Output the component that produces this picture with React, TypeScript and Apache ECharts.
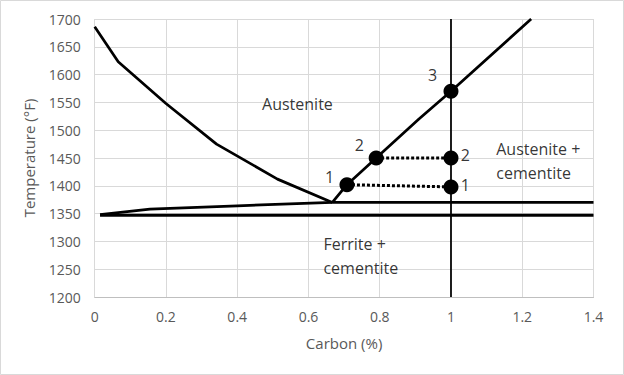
import React, { useEffect, useRef } from "react";
import * as echarts from "echarts";

// A3 line (ferrite/austenite boundary)
const a3Carbon = [0, 0.066, 0.2, 0.342, 0.513, 0.667];
const a3Temp = [1686, 1623, 1548, 1475, 1412, 1370];

// A1 upper line
const a1Carbon = [0.015, 0.155, 0.4, 0.667, 1.4];
const a1Temp = [1348, 1358, 1364, 1370, 1370];

// Lower horizontal line
const lowCarbon = [0.015, 1.4];
const lowTemp = [1347, 1347];

// Acm line
const acmCarbon = [0.667, 0.708, 0.79, 0.91, 1, 1.225];
const acmTemp = [1370, 1402, 1450, 1520, 1570, 1700];

// Vertical composition line
const vertCarbon = [1, 1];
const vertTemp = [1200, 1700];

// Points
const dotCarbon = [0.708, 0.79, 1, 1, 1];
const dotTemp = [1402, 1450, 1570, 1450, 1398];

// Tie lines (dotted)
const tie1Carbon = [0.708, 1];
const tie1Temp = [1402, 1398];
const tie2Carbon = [0.79, 1];
const tie2Temp = [1450, 1450];

// Region labels
const regionText = ["Austenite", "Austenite +\ncementite", "Ferrite +\ncementite"];
const regionCarbon = [0.569, 1.127, 0.642];
const regionTemp = [1547, 1445, 1274];
const regionAlign = ["center", "left", "left"];

// Number labels
const numText = ["3", "2", "1", "2", "1"];
const numCarbon = [0.948, 0.743, 0.659, 1.04, 1.04];
const numTemp = [1599, 1473, 1416, 1455, 1401];

const zip = (a: number[], b: number[]) => a.map((v, i) => [v, b[i]]);

export default function App() {
  const ref = useRef<HTMLDivElement>(null);
  useEffect(() => {
    document.body.style.margin = "0";
    const chart = echarts.init(ref.current!, null, { renderer: "svg" });
    const font = "'Open Sans', sans-serif";
    const lineSeries = (data: number[][], width: number, type: any = "solid") => ({
      type: "line",
      data,
      showSymbol: false,
      symbol: "none",
      lineStyle: { color: "#000", width, type },
      silent: true,
      z: 3,
    });
    chart.setOption({
      animation: false,
      graphic: [
        {
          type: "rect",
          shape: { x: 0.5, y: 0.5, width: 623, height: 374 },
          style: { fill: "none", stroke: "#d9d9d9", lineWidth: 1 },
          silent: true,
        },
      ],
      grid: { left: 94.7, right: 30.5, top: 19, bottom: 78 },
      xAxis: {
        type: "value",
        min: 0,
        max: 1.4,
        interval: 0.2,
        name: "Carbon (%)",
        nameLocation: "middle",
        nameGap: 38,
        nameTextStyle: { color: "#595959", fontSize: 15, fontFamily: font },
        axisLine: { show: true, lineStyle: { color: "#bfbfbf", width: 1 } },
        axisTick: { show: false },
        splitLine: { show: true, lineStyle: { color: "#d9d9d9", width: 1 } },
        axisLabel: {
          color: "#595959",
          fontSize: 14,
          fontFamily: font,
          margin: 12,
          formatter: (v: number) => String(Math.round(v * 10) / 10),
        },
      },
      yAxis: {
        type: "value",
        min: 1200,
        max: 1700,
        interval: 50,
        name: "Temperature (°F)",
        nameLocation: "middle",
        nameGap: 58,
        nameTextStyle: { color: "#595959", fontSize: 15, fontFamily: font },
        axisLine: { show: false },
        axisTick: { show: false },
        splitLine: { show: true, lineStyle: { color: "#d9d9d9", width: 1 } },
        axisLabel: {
          color: "#595959",
          fontSize: 14,
          fontFamily: font,
          margin: 14,
          formatter: (v: number) => String(v),
        },
      },
      series: [
        lineSeries(zip(a3Carbon, a3Temp), 2.75),
        lineSeries(zip(a1Carbon, a1Temp), 2.75),
        lineSeries(zip(lowCarbon, lowTemp), 3),
        lineSeries(zip(acmCarbon, acmTemp), 2.75),
        lineSeries(zip(vertCarbon, vertTemp), 1.75),
        lineSeries(zip(tie1Carbon, tie1Temp), 3, [3, 2]),
        lineSeries(zip(tie2Carbon, tie2Temp), 3, [3, 2]),
        {
          type: "scatter",
          data: zip(dotCarbon, dotTemp),
          symbol: "circle",
          symbolSize: 15,
          itemStyle: { color: "#000", opacity: 1 },
          silent: true,
          z: 5,
        },
        {
          type: "scatter",
          data: regionText.map((t, i) => ({
            value: [regionCarbon[i], regionTemp[i]],
            label: { formatter: t, align: regionAlign[i] },
          })),
          symbolSize: 0,
          silent: true,
          label: {
            show: true,
            position: "inside",
            color: "#000",
            fontSize: 16,
            lineHeight: 24,
            fontFamily: font,
          },
          z: 6,
        },
        {
          type: "scatter",
          data: numText.map((t, i) => ({
            value: [numCarbon[i], numTemp[i]],
            label: { formatter: t },
          })),
          symbolSize: 0,
          silent: true,
          label: {
            show: true,
            position: "inside",
            color: "#000",
            fontSize: 16,
            fontFamily: font,
          },
          z: 6,
        },
      ],
    });
    return () => chart.dispose();
  }, []);
  return <div ref={ref} style={{ width: 624, height: 375 }} />;
}
